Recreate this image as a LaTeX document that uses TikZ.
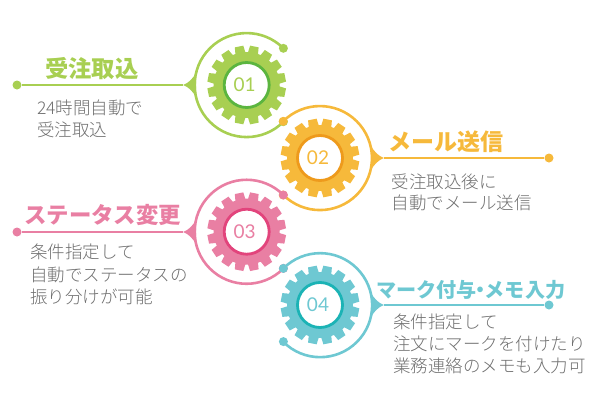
\documentclass[tikz,border=0pt]{standalone}
\usepackage{fontspec}
\setmainfont{Noto Sans CJK JP}
\newfontfamily\numfont{Lato}
\newfontfamily\lightfont{Noto Sans CJK JP Light}
\usetikzlibrary{calc}
\definecolor{cgreen}{HTML}{A8CF52}
\definecolor{cgreend}{HTML}{5BB53F}
\definecolor{corange}{HTML}{F6B93B}
\definecolor{coranged}{HTML}{EE9A1C}
\definecolor{cpink}{HTML}{E97FA3}
\definecolor{cpinkd}{HTML}{E2447C}
\definecolor{cteal}{HTML}{6EC8D2}
\definecolor{cteald}{HTML}{1BB3B5}
\definecolor{bodygray}{HTML}{6E6E6E}
\tikzset{
  ringline/.style={line width=2.6pt},
  leadline/.style={line width=2.6pt},
  bodytext/.style={font=\lightfont\fontsize{17.5}{22}\selectfont,text=bodygray,inner sep=0pt,anchor=west},
  headtext/.style={font=\bfseries\fontsize{#1}{24}\selectfont,anchor=west,inner sep=0pt},
  enddot/.style={circle,inner sep=0pt,minimum size=9pt},
}
% name, cx, cy, rotation, main colour, dark colour, number
\newcommand{\gearat}[7]{%
  \coordinate (#1c) at (#2,#3);
  \fill[#5] ($(#1c)+(#4-8.8:33)$)
    \foreach \i in {0,...,15}{
      -- ($(#1c)+(#4+22.5*\i-6.3:39.5)$)
      -- ($(#1c)+(#4+22.5*\i+6.3:39.5)$)
      -- ($(#1c)+(#4+22.5*\i+8.8:33)$)
      -- ($(#1c)+(#4+22.5*\i+13.7:33)$)
    } -- cycle;
  \node[circle,fill=white,draw=#6,line width=2.8pt,minimum size=45pt,inner sep=0pt,text=#5,font=\numfont\fontsize{19}{20}\selectfont] (#1) at (#1c) {\hspace*{-4pt}#7};
}
\begin{document}
\begin{tikzpicture}[x=1pt,y=-1pt]
\useasboundingbox (0,0) rectangle (603,402);

% --- 01
\gearat{gA}{246.7}{85}{11.25}{cgreen}{cgreend}{01}
\node[enddot,fill=cgreen] (dA1) at (283.4,48.3) {};
\node[enddot,fill=cgreen] (dA2) at (283.4,121.7) {};
\node[enddot,fill=cgreen] (dA3) at (17,85) {};
\coordinate (sA) at (183,85);
\draw[ringline,cgreen] (dA1.center) arc[start angle=-45,end angle=-315,radius=52];
\fill[cgreen] (sA) .. controls (189,83) and (193,78) .. (196,73) -- (196,97) .. controls (193,92) and (189,87) .. (sA) -- cycle;
\draw[leadline,cgreen] (dA3) -- (sA);

% --- 02
\gearat{gB}{320}{158}{11.25}{corange}{coranged}{02}
\node[enddot,fill=corange] (dB1) at (283.2,121.3) {};
\node[enddot,fill=corange] (dB2) at (283.2,195) {};
\node[enddot,fill=corange] (dB3) at (549,158) {};
\coordinate (sB) at (384,158);
\draw[ringline,corange] (dB1.center) arc[start angle=-135,end angle=135,radius=52];
\fill[corange] (sB) .. controls (378,156) and (374,151) .. (371,146) -- (371,170) .. controls (374,165) and (378,160) .. (sB) -- cycle;
\draw[leadline,corange] (dB3) -- (sB);

% --- 03
\gearat{gC}{246.7}{231.7}{11.25}{cpink}{cpinkd}{03}
\node[enddot,fill=cpink] (dC1) at (283.4,195) {};
\node[enddot,fill=cpink] (dC2) at (283.4,268.4) {};
\node[enddot,fill=cpink] (dC3) at (17,232) {};
\coordinate (sC) at (183,232);
\draw[ringline,cpink] (dC1.center) arc[start angle=-45,end angle=-315,radius=52];
\fill[cpink] (sC) .. controls (189,230) and (193,225) .. (196,220) -- (196,244) .. controls (193,239) and (189,234) .. (sC) -- cycle;
\draw[leadline,cpink] (dC3) -- (sC);

% --- 04
\gearat{gD}{320}{305}{11.25}{cteal}{cteald}{04}
\node[enddot,fill=cteal] (dD1) at (283.4,268.4) {};
\node[enddot,fill=cteal] (dD2) at (283.4,341.6) {};
\node[enddot,fill=cteal] (dD3) at (549,305) {};
\coordinate (sD) at (384,305);
\draw[ringline,cteal] (dD1.center) arc[start angle=-135,end angle=135,radius=52];
\fill[cteal] (sD) .. controls (378,303) and (374,298) .. (371,293) -- (371,317) .. controls (374,312) and (378,307) .. (sD) -- cycle;
\draw[leadline,cteal] (dD3) -- (sD);

% --- headings
\node[headtext=23.3,text=cgreen] (hA) at (45,69) {受注取込};
\node[headtext=23,text=corange] (hB) at (388,141.5) {メール送信};
\node[headtext=22.4,text=cpink] (hC) at (24,215.5) {ステータス変更};
\node[headtext=20.1,text=cteal] (hD) at (376,289.5) {マーク付与\hspace{-6pt}・\hspace{-6pt}メモ入力};

% --- body
\node[bodytext] (bA1) at (37,108) {24時間自動で};
\node[bodytext] (bA2) at (37,130) {受注取込};
\node[bodytext] (bB1) at (391.5,181.5) {受注取込後に};
\node[bodytext] (bB2) at (391.5,203) {自動でメール送信};
\node[bodytext] (bC1) at (30,252) {条件指定して};
\node[bodytext] (bC2) at (30,274.5) {自動でステータスの};
\node[bodytext] (bC3) at (30,297) {振り分けが可能};
\node[bodytext] (bD1) at (393,322) {条件指定して};
\node[bodytext] (bD2) at (393,344) {注文にマークを付けたり};
\node[bodytext] (bD3) at (393,366) {業務連絡のメモも入力可};
\end{tikzpicture}
\end{document}
